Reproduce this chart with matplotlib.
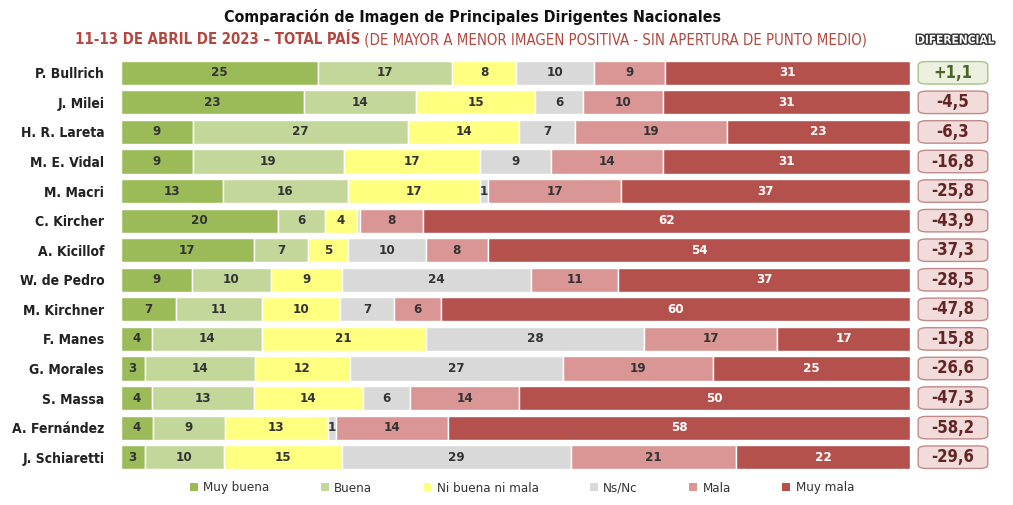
import numpy as np
import matplotlib
matplotlib.use('Agg')
import matplotlib.pyplot as plt
from matplotlib.patches import FancyBboxPatch, Patch
import matplotlib.patheffects as pe

plt.rcParams['font.family'] = ['DejaVu Sans']
plt.rcParams['font.stretch'] = 'condensed'

names = ['P. Bullrich', 'J. Milei', 'H. R. Lareta', 'M. E. Vidal', 'M. Macri', 'C. Kircher',
         'A. Kicillof', 'W. de Pedro', 'M. Kirchner', 'F. Manes', 'G. Morales', 'S. Massa',
         'A. Fernández', 'J. Schiaretti']
categories = ['Muy buena', 'Buena', 'Ni buena ni mala', 'Ns/Nc', 'Mala', 'Muy mala']
muy_buena = [25, 23, 9, 9, 13, 20, 17, 9, 7, 4, 3, 4, 4, 3]
buena = [17, 14, 27, 19, 16, 6, 7, 10, 11, 14, 14, 13, 9, 10]
ni_ni = [8, 15, 14, 17, 17, 4, 5, 9, 10, 21, 12, 14, 13, 15]
nsnc = [10, 6, 7, 9, 1, 0.4, 10, 24, 7, 28, 27, 6, 1, 29]
mala = [9, 10, 19, 14, 17, 8, 8, 11, 6, 17, 19, 14, 14, 21]
muy_mala = [31, 31, 23, 31, 37, 62, 54, 37, 60, 17, 25, 50, 58, 22]
diferencial = ['+1,1', '-4,5', '-6,3', '-16,8', '-25,8', '-43,9', '-37,3', '-28,5',
               '-47,8', '-15,8', '-26,6', '-47,3', '-58,2', '-29,6']

colors = ['#9bbb59', '#c4d79b', '#ffff80', '#d9d9d9', '#d99694', '#b5514d']
text_colors = ['#333333', '#333333', '#333333', '#333333', '#333333', 'white']

series = np.array([muy_buena, buena, ni_ni, nsnc, mala, muy_mala], dtype=float)
totals = series.sum(axis=0)
pct = series / totals * 100

fig = plt.figure(figsize=(10.13, 5.05), dpi=100)
ax = fig.add_axes([121/1013, 1 - 472/505, (910-121)/1013, (472-58)/505])

y = np.arange(len(names))
left = np.zeros(len(names))
for i in range(len(categories)):
    ax.barh(y, pct[i], left=left, height=0.82, color=colors[i], edgecolor='white',
            linewidth=1, label=categories[i])
    for j in range(len(names)):
        v = series[i, j]
        if v >= 1:
            ax.text(left[j] + pct[i, j] / 2, y[j], '%d' % v, ha='center', va='center',
                    fontsize=9.5, fontweight='bold', color=text_colors[i])
    left += pct[i]

ax.set_xlim(0, 100)
ax.set_ylim(len(names) - 0.5, -0.5)
ax.set_yticks(y)
ax.set_yticklabels(names, fontsize=10, fontweight='bold', color='#222222')
ax.tick_params(axis='y', length=0, pad=12)
ax.set_xticks([])
for s in ax.spines.values():
    s.set_visible(False)

# differential column
ax2 = fig.add_axes([916/1013, 1 - 472/505, 74/1013, (472-58)/505])
ax2.set_xlim(0, 1)
ax2.set_ylim(len(names) - 0.5, -0.5)
ax2.axis('off')
for j, d in enumerate(diferencial):
    pos = d.startswith('+')
    fc = '#ebf1de' if pos else '#f2dcdb'
    ec = '#a8c28a' if pos else '#c08a88'
    tc = '#4f6228' if pos else '#632523'
    box = FancyBboxPatch((0.03, j - 0.38), 0.94, 0.76,
                         boxstyle='round,pad=0,rounding_size=0.12',
                         mutation_aspect=1, fc=fc, ec=ec, lw=1)
    ax2.add_patch(box)
    ax2.text(0.5, j, d, ha='center', va='center', fontsize=12, fontweight='bold', color=tc)

fig.text(955/1013, 1 - 40/505, 'DIFERENCIAL', ha='center', va='center', fontsize=8.5,
         fontweight='bold', color='white',
         path_effects=[pe.withStroke(linewidth=2, foreground='#333333')])

fig.text(472/1013, 1 - 17/505, 'Comparación de Imagen de Principales Dirigentes Nacionales',
         ha='center', va='center', fontsize=11.4, fontweight='bold', color='#111111')
t1 = fig.text(75/1013, 1 - 40/505, '11-13 DE ABRIL DE 2023 – TOTAL PAÍS', ha='left',
              va='center', fontsize=10.7, fontweight='bold', color='#b5473f')
fig.canvas.draw()
bb = t1.get_window_extent()
fig.text(bb.x1 / fig.bbox.width, 1 - 40/505,
         ' (DE MAYOR A MENOR IMAGEN POSITIVA - SIN APERTURA DE PUNTO MEDIO)',
         ha='left', va='center', fontsize=10.7, color='#b5473f')

handles = [Patch(facecolor=c, edgecolor='none') for c in colors]
fig.legend(handles, categories, loc='center', bbox_to_anchor=(522/1013, 1 - 488/505),
           ncol=6, frameon=False, fontsize=9.5, handlelength=0.6, handleheight=0.6,
           handletextpad=0.4, columnspacing=3.9, labelcolor='#333333')

fig.savefig('out.png', dpi=100)
